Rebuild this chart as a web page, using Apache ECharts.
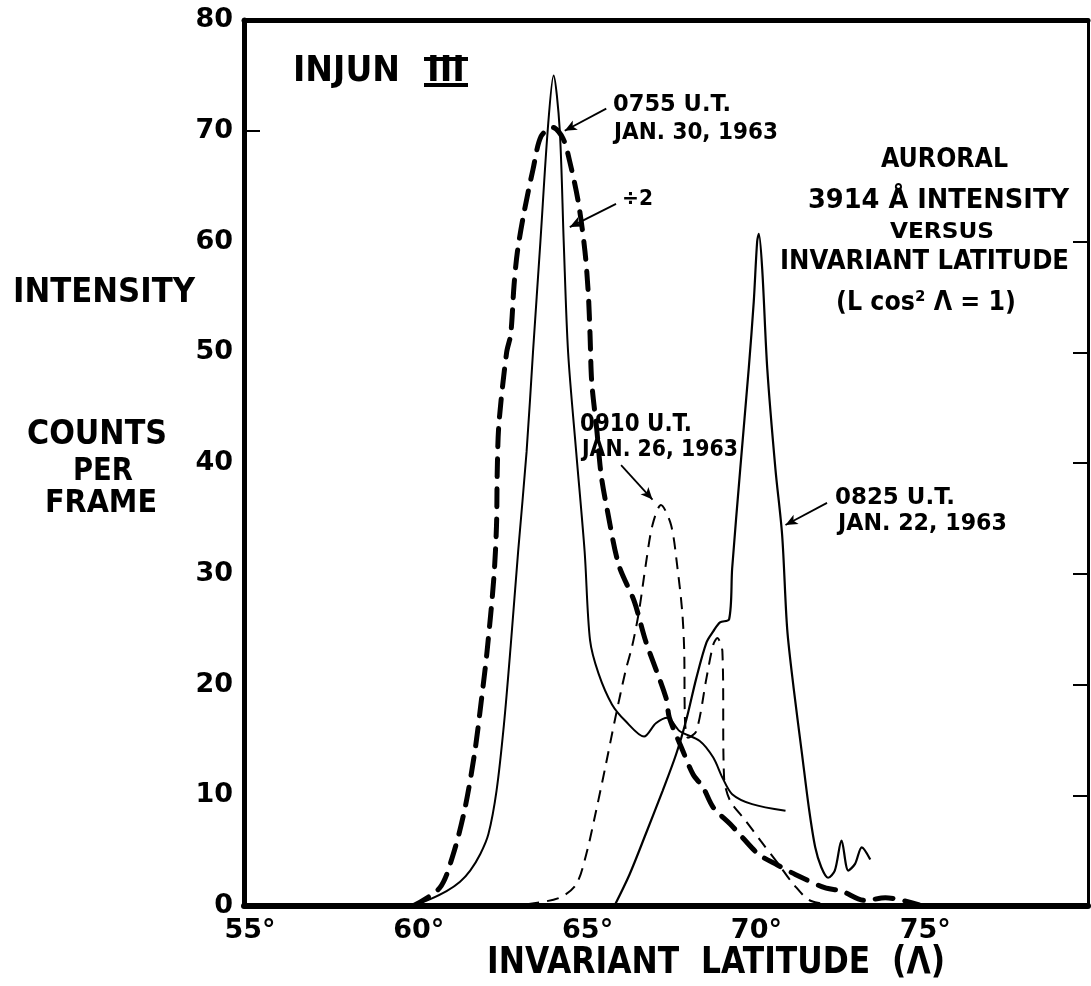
<!DOCTYPE html>
<html><head><meta charset="utf-8">
<script src="https://cdn.jsdelivr.net/npm/echarts@6/dist/echarts.min.js"></script>
<style>html,body{margin:0;padding:0;background:#fff}#c{width:1091px;height:986px}</style>
</head><body><div id="c"></div>
<script>
// ---- data (invariant latitude in degrees, intensity in counts per frame) ----
const xTickValues = [55, 60, 65, 70, 75, 80];
const yTickValues = [0, 10, 20, 30, 40, 50, 60, 70, 80];

// 0755 U.T. Jan 30, 1963 (solid)
const jan30Lat = [60.0, 60.5, 61.0, 61.4, 61.7, 62.0, 62.24, 62.48, 62.7, 62.9, 63.12, 63.37, 63.56, 63.78, 64.0, 64.17, 64.35, 64.47, 64.6, 64.84, 65.09, 65.25, 65.5, 65.9, 66.3, 66.85, 67.2, 67.55, 67.9, 68.5, 68.9, 69.17, 69.46, 70.05, 71.04];
const jan30Val = [0, 0.6, 1.35, 2.2, 3.2, 4.7, 6.5, 10.4, 16.4, 23.5, 32, 41, 50, 60, 70.2, 75, 70.2, 60, 50, 41, 32, 24, 21, 18.2, 16.7, 15.3, 16.5, 17.0, 15.8, 14.9, 13.4, 11.6, 10.1, 9.2, 8.6];

// 0755 U.T. Jan 30, 1963 divided by 2 (heavy dashed)
const jan30HalfLat = [60.0, 60.8, 61.2, 61.55, 61.84, 62.04, 62.2, 62.4, 62.48, 62.5, 62.55, 62.78, 62.9, 63.0, 63.1, 63.3, 63.56, 63.8, 64.15, 64.45, 64.65, 64.9, 65.1, 65.2, 65.25, 65.3, 65.45, 65.58, 65.77, 66.1, 66.56, 66.9, 67.5, 67.6, 68.0, 68.3, 68.6, 68.9, 69.4, 69.76, 70.25, 70.8, 71.33, 72.2, 72.7, 73.4, 74.0, 75.0];
const jan30HalfVal = [0, 1.65, 4.7, 8.9, 14, 18.8, 23, 29.6, 34.4, 39, 43.5, 50, 51.6, 56.1, 59.1, 62.7, 66.5, 69.5, 70.3, 69.3, 67.2, 63.6, 59.1, 55.2, 51.6, 47.3, 43, 38.9, 35.6, 30.8, 27.5, 23.9, 18.8, 17, 14, 11.9, 10.7, 8.9, 7.4, 6.2, 4.65, 3.7, 2.85, 1.65, 1.35, 0.5, 0.75, 0.1];

// 0910 U.T. Jan 26, 1963 (thin dashed)
const jan26Lat = [62.8, 63.37, 64.35, 64.84, 65.14, 65.43, 65.7, 66.0, 66.3, 66.5, 66.7, 66.9, 67.1, 67.35, 67.65, 67.84, 67.98, 68.04, 68.06, 68.15, 68.4, 68.7, 68.9, 69.02, 69.17, 69.22, 69.4, 69.86, 70.3, 70.84, 71.28, 71.8, 72.9];
const jan26Val = [0, 0.15, 0.75, 1.95, 4.7, 8.6, 12.5, 17, 21.2, 23.5, 26.6, 30.8, 34.4, 36.2, 34.4, 30.5, 26.6, 23, 17, 15.2, 15.8, 20.6, 23.6, 24.2, 23, 11.6, 9.5, 7.7, 5.9, 3.75, 1.95, 0.45, 0];

// 0825 U.T. Jan 22, 1963 (solid)
const jan22Lat = [65.97, 66.42, 66.9, 67.4, 67.8, 68.1, 68.4, 68.7, 68.9, 69.1, 69.37, 69.46, 69.7, 69.95, 70.1, 70.2, 70.25, 70.35, 70.5, 70.74, 70.94, 71.09, 71.28, 71.53, 71.73, 71.92, 72.1, 72.3, 72.5, 72.7, 72.9, 73.1, 73.3, 73.55];
const jan22Val = [0, 2.85, 6.5, 10.4, 13.7, 16.8, 20.6, 23.8, 24.8, 25.6, 25.9, 30.5, 39.5, 48.5, 54.6, 60, 60.7, 57.5, 48.5, 39.5, 33.5, 25, 19.7, 13.7, 8.9, 5.3, 3.5, 2.55, 3.2, 5.9, 3.2, 3.8, 5.3, 4.2];

// annotation arrows: [fromLat, fromVal, toLat, toVal]
const arrow0755 = [65.73, 72.0, 64.5, 70.0];
const arrowHalf = [66.02, 63.4, 64.65, 61.3];
const arrow0910 = [66.17, 39.8, 67.1, 36.7];
const arrow0825 = [72.27, 36.4, 71.04, 34.4];

// ---- rendering ----
const FONT = '"DejaVu Sans", sans-serif';
const zip = (a, b) => a.map((v, i) => [v, b[i]]);
const mctx = document.createElement('canvas').getContext('2d');
function fitText(str, x1, x2, yc, cap) {
  const size = Math.round(cap / 0.729);
  const font = 'bold ' + size + 'px ' + FONT;
  mctx.font = font;
  const w = mctx.measureText(str).width;
  return {
    type: 'text', x: x1, y: yc, scaleX: (x2 - x1) / w, z: 100, silent: true,
    style: { text: str, x: 0, y: 0, font: font, fill: '#000', textAlign: 'left', textVerticalAlign: 'middle', verticalAlign: 'middle' }
  };
}
const texts = [
  ['INJUN', 293, 400, 72, 26],
  ['III', 427, 465, 72, 26],
  ['0755 U.T.', 613, 731, 105, 17],
  ['JAN. 30, 1963', 614, 778, 133, 16.5],
  ['÷2', 622, 653, 200, 15],
  ['AURORAL', 881, 1008, 160, 20],
  ['3914 Å INTENSITY', 808, 1069, 201, 20],
  ['VERSUS', 890, 994, 232, 16],
  ['INVARIANT LATITUDE', 780, 1069, 262, 20],
  ['(L cos² Λ = 1)', 836, 1016, 303, 19],
  ['INTENSITY', 13, 195, 293, 25],
  ['COUNTS', 27, 167, 435, 25],
  ['PER', 73, 133, 472, 23],
  ['FRAME', 45, 157, 504, 23],
  ['0910 U.T.', 580, 692, 424, 18],
  ['JAN. 26, 1963', 582, 738, 450, 16.5],
  ['0825 U.T.', 835, 955, 498, 17],
  ['JAN. 22, 1963', 838, 1007, 524, 17],
  ['INVARIANT  LATITUDE  (Λ)', 487, 945, 963, 27]
];
// bars of the roman numeral III in "INJUN III"
const numeralBars = [
  { type: 'rect', shape: { x: 424, y: 57, width: 44, height: 4 }, style: { fill: '#000' }, z: 100, silent: true },
  { type: 'rect', shape: { x: 424, y: 83, width: 44, height: 4 }, style: { fill: '#000' }, z: 100, silent: true }
];

function arrowLine(a) {
  return [{ coord: [a[0], a[1]] }, { coord: [a[2], a[3]] }];
}

const chart = echarts.init(document.getElementById('c'), null, { renderer: 'canvas' });
const labelStyle = { color: '#000', fontFamily: FONT, fontWeight: 'bold', fontSize: 27 };
chart.setOption({
  animation: false,
  backgroundColor: '#fff',
  grid: { left: 244, right: 0, top: 20, bottom: 80, containLabel: false },
  xAxis: [
    {
      type: 'value', position: 'bottom', min: xTickValues[0], max: xTickValues[xTickValues.length - 1], interval: 5,
      axisLine: { show: true, onZero: false, lineStyle: { color: '#000', width: 6 } },
      axisTick: { show: false }, splitLine: { show: false },
      axisLabel: Object.assign({ margin: 11, padding: [0, 0, 0, 12], formatter: v => (v === 80 ? '' : v + '°') }, labelStyle)
    },
    {
      type: 'value', position: 'top', min: 55, max: 80,
      axisLine: { show: true, onZero: false, lineStyle: { color: '#000', width: 5 } },
      axisTick: { show: false }, axisLabel: { show: false }, splitLine: { show: false }
    }
  ],
  yAxis: [
    {
      type: 'value', position: 'left', min: yTickValues[0], max: yTickValues[yTickValues.length - 1], interval: 10,
      axisLine: { show: true, onZero: false, lineStyle: { color: '#000', width: 5 } },
      axisTick: { show: true, inside: true, length: 16, customValues: [70], lineStyle: { color: '#000', width: 2 } },
      splitLine: { show: false },
      axisLabel: Object.assign({ margin: 11 }, labelStyle)
    },
    {
      type: 'value', position: 'right', min: 0, max: 80, interval: 10,
      axisLine: { show: true, onZero: false, lineStyle: { color: '#000', width: 3 } },
      axisTick: { show: true, inside: true, length: 15, customValues: [10, 20, 30, 40, 50, 60], lineStyle: { color: '#000', width: 2 } },
      axisLabel: { show: false }, splitLine: { show: false }
    }
  ],
  series: [
    {
      name: '0755 U.T. JAN. 30, 1963', type: 'line', data: zip(jan30Lat, jan30Val), showSymbol: false, smooth: 0.3,
      lineStyle: { color: '#000', width: 2 }, z: 3,
      markLine: {
        silent: true, symbol: ['none', 'arrow'], symbolSize: [8, 12], label: { show: false },
        lineStyle: { color: '#000', width: 1.8, type: 'solid' },
        data: [arrowLine(arrow0755), arrowLine(arrowHalf), arrowLine(arrow0910), arrowLine(arrow0825)]
      }
    },
    {
      name: '÷2', type: 'line', data: zip(jan30HalfLat, jan30HalfVal), showSymbol: false, smooth: 0.3,
      lineStyle: { color: '#000', width: 5, type: [18, 12], cap: 'round' }, z: 3
    },
    {
      name: '0910 U.T. JAN. 26, 1963', type: 'line', data: zip(jan26Lat, jan26Val), showSymbol: false, smooth: 0.3,
      lineStyle: { color: '#000', width: 2, type: [12, 8] }, z: 3
    },
    {
      name: '0825 U.T. JAN. 22, 1963', type: 'line', data: zip(jan22Lat, jan22Val), showSymbol: false, smooth: 0.3,
      lineStyle: { color: '#000', width: 2.2 }, z: 3
    }
  ],
  graphic: texts.map(t => fitText(t[0], t[1], t[2], t[3], t[4])).concat(numeralBars)
});
</script></body></html>
